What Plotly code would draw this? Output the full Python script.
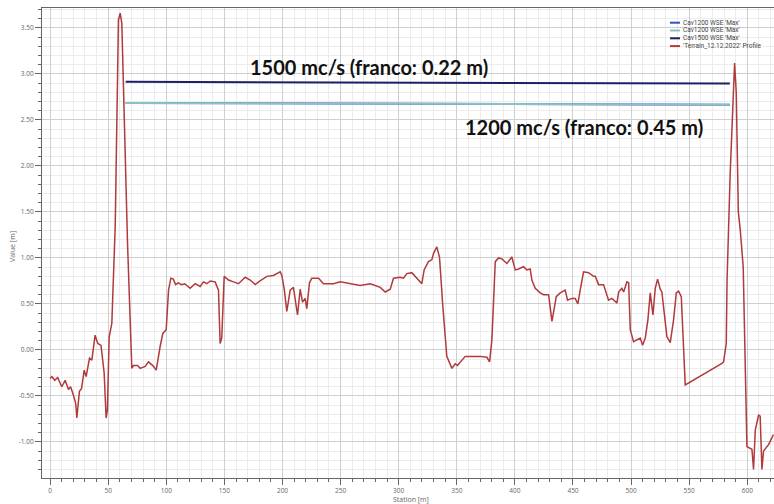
import plotly.graph_objects as go

# ---- data ----
terrain_station = [0, 1.5, 4, 6.5, 10, 12.9, 15.8, 17.6, 20, 22, 23, 25.2, 27, 29.3, 31, 33.9, 35.9,
    38.7, 41, 43.8, 46.5, 48.2, 49.3, 50.8, 53.1, 56, 58.8, 60.3, 61.7, 64.6, 66.6, 70.3, 71.7,
    75.2, 77.5, 81.8, 84.6, 88.4, 91.3, 94.7, 97, 99.9, 101.9, 103.9, 106, 108, 110.3, 113, 115.9,
    120.5, 124.8, 129.1, 132, 134.9, 137.8, 142, 144.9, 146.3, 147.7, 149.8, 153.5, 157.8, 162.1,
    167.9, 172.2, 176.5, 179.4, 186.5, 192.2, 198, 199.4, 201.4, 203.7, 206.6, 209.4, 212.9, 215.2,
    217.2, 219.5, 220.9, 223.2, 225.2, 231, 235.3, 243.9, 249.6, 258.2, 266.9, 275.5, 284.1, 288.4,
    292.7, 295.5, 301.3, 304.1, 307, 311.3, 315.6, 319.9, 321.9, 325.6, 328.5, 330, 332.8, 335.1,
    338, 341.4, 345.8, 348.6, 350.6, 357.2, 364.4, 370.1, 375.9, 378.2, 380.2, 383.1, 385.9, 388.8,
    393.1, 397.4, 400.3, 403.2, 407.4, 410.3, 413.2, 414.6, 417.5, 421.8, 424.6, 429, 431.9, 435.6,
    439, 443.3, 445.3, 449, 451.9, 454.2, 456.2, 459.1, 463.4, 467.7, 469.2, 472, 476.3, 480.6,
    483.5, 487.8, 489.3, 492.1, 493.6, 496.4, 497.9, 499.3, 502.1, 505, 507.9, 509.9, 512.2, 514.5,
    516.5, 518.8, 520.8, 522.8, 525.1, 526.5, 530.8, 533.7, 536.6, 538.9, 540.9, 543.2, 546.6,
    578.2, 579.6, 581.9, 582.6, 585.3, 588.3, 589.1, 590.5, 592.3, 594, 596.5, 599.7, 604, 605.4,
    606.9, 609.7, 611.1, 612.6, 614, 618.3, 622.6]
terrain_value = [-0.31, -0.29, -0.33, -0.30, -0.40, -0.33, -0.43, -0.40, -0.49, -0.58, -0.74, -0.45,
    -0.42, -0.22, -0.29, -0.09, -0.11, 0.16, 0.07, 0.05, -0.25, -0.74, -0.65, 0.14, 0.29, 1.34, 3.59,
    3.66, 3.55, 2.17, 1.16, -0.20, -0.17, -0.17, -0.20, -0.18, -0.13, -0.17, -0.22, 0.04, 0.18, 0.22,
    0.65, 0.78, 0.77, 0.71, 0.73, 0.71, 0.72, 0.67, 0.72, 0.69, 0.74, 0.72, 0.75, 0.74, 0.65, 0.07,
    0.13, 0.80, 0.76, 0.74, 0.72, 0.79, 0.76, 0.71, 0.74, 0.80, 0.81, 0.85, 0.81, 0.67, 0.42, 0.65,
    0.68, 0.38, 0.66, 0.52, 0.56, 0.45, 0.73, 0.78, 0.78, 0.72, 0.72, 0.74, 0.72, 0.70, 0.72, 0.68,
    0.63, 0.66, 0.78, 0.79, 0.78, 0.83, 0.84, 0.78, 0.72, 0.87, 0.96, 0.98, 1.05, 1.12, 1.01, 0.47,
    -0.07, -0.20, -0.15, -0.17, -0.07, -0.07, -0.07, -0.08, -0.13, 0.11, 0.96, 1.00, 0.99, 0.94, 1.01,
    0.87, 0.88, 0.905, 0.87, 0.88, 0.76, 0.67, 0.62, 0.60, 0.60, 0.31, 0.58, 0.62, 0.65, 0.54, 0.56,
    0.56, 0.50, 0.65, 0.85, 0.84, 0.80, 0.80, 0.71, 0.71, 0.54, 0.56, 0.51, 0.63, 0.67, 0.63, 0.74,
    0.73, 0.22, 0.09, 0.11, 0.13, 0.05, 0.13, 0.33, 0.62, 0.38, 0.67, 0.77, 0.66, 0.63, 0.145, 0.08,
    0.33, 0.62, 0.64, 0.58, -0.38, -0.145, -0.13, 0.07, 0.76, 1.92, 3.0, 3.12, 2.80, 1.50, 1.30,
    0.90, -1.05, -1.08, -1.30, -0.87, -0.71, -0.72, -1.30, -1.10, -1.03, -0.92]

wse_station = [65, 150, 250, 350, 450, 585]
cav1500_wse = [2.915, 2.912, 2.910, 2.905, 2.900, 2.895]
cav1200_wse = [2.685, 2.683, 2.680, 2.675, 2.670, 2.665]

series_names = ["Cav1200 WSE 'Max'", "Cav1200 WSE 'Max'", "Cav1500 WSE 'Max'",
                "'Terrain_12.12.2022' Profile"]
series_colors = ["#3a4fc0", "#8cc0c6", "#1f1f66", "#b03a3c"]

x_ticks = list(range(0, 601, 50))
y_ticks = [-1.0, -0.5, 0.0, 0.5, 1.0, 1.5, 2.0, 2.5, 3.0, 3.5]

label_1500 = "1500 mc/s (franco: 0.22 m)"
label_1200 = "1200 mc/s (franco: 0.45 m)"
x_title = "Station [m]"
y_title = "Value [m]"

# ---- figure ----
W, H = 774, 504
ML, MR, MT, MB = 42, 0, 8, 26
PW, PH = W - ML - MR, H - MT - MB

def px_to_paper(px, py):
    return (px - ML) / PW, (H - MB - py) / PH

fig = go.Figure()
fig.add_trace(go.Scatter(x=wse_station, y=cav1200_wse, mode="lines", name=series_names[0],
                         line=dict(color=series_colors[0], width=2), showlegend=False))
fig.add_trace(go.Scatter(x=wse_station, y=cav1200_wse, mode="lines", name=series_names[1],
                         line=dict(color=series_colors[1], width=2), showlegend=False))
fig.add_trace(go.Scatter(x=wse_station, y=cav1500_wse, mode="lines", name=series_names[2],
                         line=dict(color=series_colors[2], width=2), showlegend=False))
fig.add_trace(go.Scatter(x=terrain_station, y=terrain_value, mode="lines", name=series_names[3],
                         line=dict(color=series_colors[3], width=1.5), showlegend=False))

# manual compact legend (top-right)
leg_y = [22.7, 30.5, 38.3, 46.1]
shapes = []
annotations = []
for name, col, py in zip(series_names, series_colors, leg_y):
    x0, y0 = px_to_paper(670, py)
    x1, _ = px_to_paper(680, py)
    shapes.append(dict(type="line", xref="paper", yref="paper", x0=x0, x1=x1, y0=y0, y1=y0,
                       line=dict(color=col, width=2)))
    xt, _ = px_to_paper(681, py)
    annotations.append(dict(xref="paper", yref="paper", x=xt, y=y0, text=name, showarrow=False,
                            xanchor="left", yanchor="middle",
                            font=dict(family="Roboto", size=6.5, color="#444")))

ax, ay = px_to_paper(369, 67)
annotations.append(dict(xref="paper", yref="paper", x=ax, y=ay, text="<b>%s</b>" % label_1500,
                        showarrow=False, xanchor="center", yanchor="middle",
                        font=dict(family="Lato", size=20, color="#111")))
ax, ay = px_to_paper(584, 127)
annotations.append(dict(xref="paper", yref="paper", x=ax, y=ay, text="<b>%s</b>" % label_1200,
                        showarrow=False, xanchor="center", yanchor="middle",
                        font=dict(family="Lato", size=20, color="#111")))

# axis titles
tx, ty = px_to_paper(411, 499.5)
annotations.append(dict(xref="paper", yref="paper", x=tx, y=ty, text=x_title, showarrow=False,
                        xanchor="center", yanchor="middle",
                        font=dict(family="Open Sans", size=7, color="#666")))
tx, ty = px_to_paper(12, 247)
annotations.append(dict(xref="paper", yref="paper", x=tx, y=ty, text=y_title, showarrow=False,
                        xanchor="center", yanchor="middle", textangle=-90,
                        font=dict(family="Open Sans", size=7, color="#666")))

tick_font = dict(family="Open Sans", size=6.5, color="#666")

fig.update_layout(
    width=W, height=H,
    margin=dict(l=ML, r=MR, t=MT, b=MB, autoexpand=False),
    paper_bgcolor="white", plot_bgcolor="white",
    shapes=shapes, annotations=annotations,
    showlegend=False,
    xaxis=dict(range=[-7, 623], tickmode="array", tickvals=x_ticks,
               ticktext=[str(v) for v in x_ticks], automargin=False,
               showline=True, linecolor="#666", linewidth=1, mirror=True,
               ticks="outside", ticklen=6, tickcolor="#666",
               showgrid=True, gridcolor="#cfcfcf", gridwidth=1, zeroline=False,
               minor=dict(dtick=10, tick0=0, ticks="outside", ticklen=3, tickcolor="#666",
                          showgrid=True, gridcolor="#ececec", gridwidth=1),
               tickfont=tick_font),
    yaxis=dict(range=[-1.392, 3.717], tickmode="array", tickvals=y_ticks,
               ticktext=["%.2f" % v for v in y_ticks], automargin=False,
               showline=True, linecolor="#666", linewidth=1, mirror=True,
               ticks="outside", ticklen=6, tickcolor="#666",
               showgrid=True, gridcolor="#cfcfcf", gridwidth=1, zeroline=False,
               minor=dict(dtick=0.1, tick0=0, ticks="outside", ticklen=3, tickcolor="#666",
                          showgrid=True, gridcolor="#ececec", gridwidth=1),
               tickfont=tick_font),
)

fig.write_html("out.html", config={"displayModeBar": False},
               post_script="document.body.style.margin='0';document.body.style.overflow='hidden';")
